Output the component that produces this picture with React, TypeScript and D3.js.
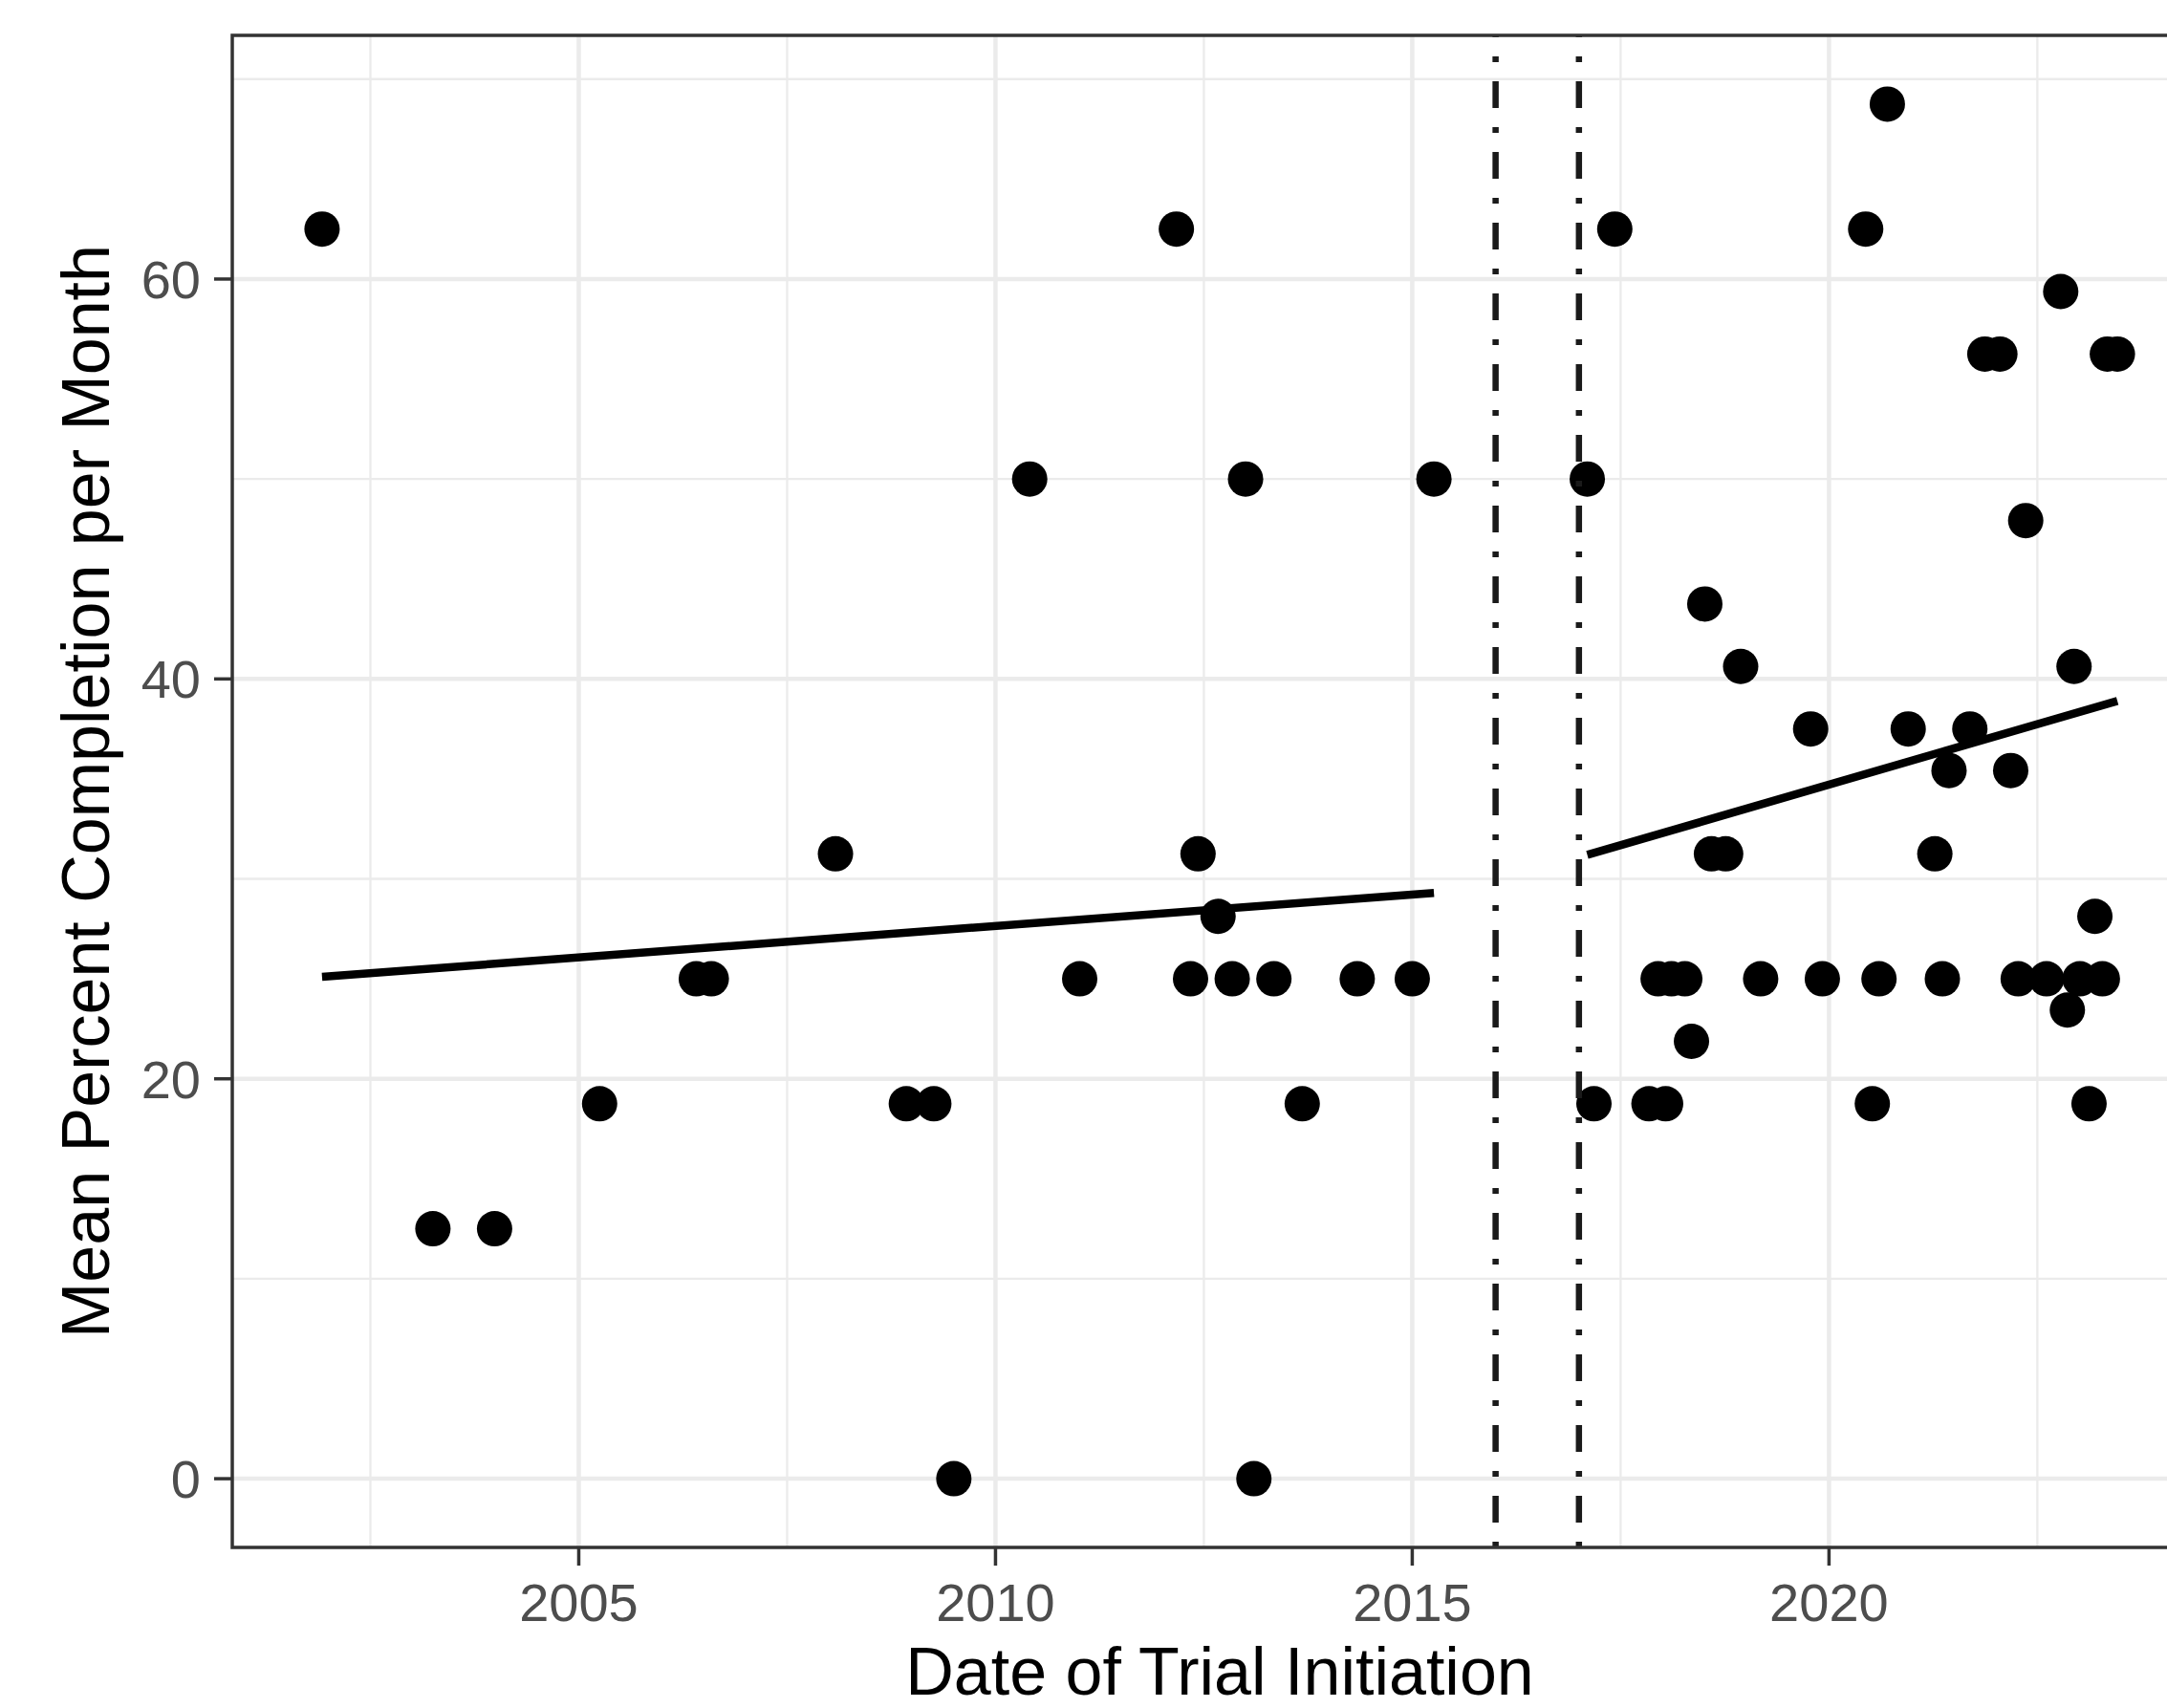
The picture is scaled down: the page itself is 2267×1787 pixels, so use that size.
import React, { useEffect, useRef } from "react";
import * as d3 from "d3";

// trials started before the 2016-2017 cut-off
const preYears = [
  2001.92, 2003.25, 2003.99, 2005.25, 2006.41, 2006.59, 2008.08, 2008.93,
  2009.26, 2009.5, 2010.41, 2011.01, 2012.17, 2012.34, 2012.43, 2012.67,
  2012.84, 2013.0, 2013.1, 2013.34, 2013.68, 2014.34, 2015.0, 2015.26,
];
const preValues = [
  62.5, 12.5, 12.5, 18.75, 25, 25, 31.25, 18.75, 18.75, 0, 50, 25, 62.5, 25,
  31.25, 28.125, 25, 50, 0, 25, 18.75, 25, 25, 50,
];

// trials started after it
const postYears = [
  2017.1, 2017.18, 2017.43, 2017.84, 2018.04, 2017.95, 2018.11, 2018.27,
  2018.35, 2018.51, 2018.59, 2018.76, 2018.94, 2019.18, 2019.78, 2019.92,
  2020.44, 2020.52, 2020.6, 2020.7, 2020.95, 2021.27, 2021.36, 2021.44,
  2021.69, 2021.87, 2022.05, 2022.18, 2022.27, 2022.36, 2022.61, 2022.78,
  2022.86, 2022.94, 2023.01, 2023.12, 2023.19, 2023.28, 2023.34, 2023.46,
];
const postValues = [
  50, 18.75, 62.5, 18.75, 18.75, 25, 25, 25, 21.875, 43.75, 31.25, 31.25,
  40.625, 25, 37.5, 25, 62.5, 18.75, 25, 68.75, 37.5, 31.25, 25, 35.42, 37.5,
  56.25, 56.25, 35.42, 25, 47.92, 25, 59.375, 23.44, 40.625, 25, 18.75,
  28.125, 25, 56.25, 56.25,
];

// linear fits (start/end) for each period
const fitYears = [
  [2001.92, 2015.26],
  [2017.1, 2023.46],
];
const fitValues = [
  [25.1, 29.3],
  [31.2, 38.9],
];

const cutoffYears = [2016, 2017];
const xTicks = [2005, 2010, 2015, 2020, 2025];
const xMinor = [2002.5, 2007.5, 2012.5, 2017.5, 2022.5];
const yTicks = [0, 20, 40, 60];
const yMinor = [10, 30, 50, 70];

const WIDTH = 2267;
const HEIGHT = 1787;
const FONT = "'Liberation Sans', Arial, Helvetica, sans-serif";

const App = () => {
  const svgRef = useRef<SVGSVGElement>(null);

  useEffect(() => {
    const svg = d3.select(svgRef.current);
    svg.selectAll("*").remove();

    const panel = { left: 243, right: 2309, top: 37, bottom: 1619 };

    const allYears = [...preYears, ...postYears];
    const allValues = [...preValues, ...postValues];
    const [x0, x1] = d3.extent(allYears) as [number, number];
    const [y0, y1] = d3.extent(allValues) as [number, number];
    const xPad = (x1 - x0) * 0.05;
    const yPad = (y1 - y0) * 0.05;

    const x = d3
      .scaleLinear()
      .domain([x0 - xPad, x1 + xPad])
      .range([panel.left, panel.right]);
    const y = d3
      .scaleLinear()
      .domain([y0 - yPad, y1 + yPad])
      .range([panel.bottom, panel.top]);

    svg.append("rect").attr("width", WIDTH).attr("height", HEIGHT).attr("fill", "#fff");

    svg
      .append("clipPath")
      .attr("id", "panel-clip")
      .append("rect")
      .attr("x", panel.left)
      .attr("y", panel.top)
      .attr("width", panel.right - panel.left)
      .attr("height", panel.bottom - panel.top);

    const g = svg.append("g").attr("clip-path", "url(#panel-clip)");

    // minor grid
    g.selectAll(".xminor")
      .data(xMinor)
      .join("line")
      .attr("x1", (d) => x(d))
      .attr("x2", (d) => x(d))
      .attr("y1", panel.top)
      .attr("y2", panel.bottom)
      .attr("stroke", "#ebebeb")
      .attr("stroke-width", 2.3);
    g.selectAll(".yminor")
      .data(yMinor)
      .join("line")
      .attr("x1", panel.left)
      .attr("x2", panel.right)
      .attr("y1", (d) => y(d))
      .attr("y2", (d) => y(d))
      .attr("stroke", "#ebebeb")
      .attr("stroke-width", 2.3);

    // major grid
    g.selectAll(".xmajor")
      .data(xTicks)
      .join("line")
      .attr("x1", (d) => x(d))
      .attr("x2", (d) => x(d))
      .attr("y1", panel.top)
      .attr("y2", panel.bottom)
      .attr("stroke", "#ebebeb")
      .attr("stroke-width", 4.5);
    g.selectAll(".ymajor")
      .data(yTicks)
      .join("line")
      .attr("x1", panel.left)
      .attr("x2", panel.right)
      .attr("y1", (d) => y(d))
      .attr("y2", (d) => y(d))
      .attr("stroke", "#ebebeb")
      .attr("stroke-width", 4.5);

    // points
    const pts = [
      ...preYears.map((yr, i) => [yr, preValues[i]]),
      ...postYears.map((yr, i) => [yr, postValues[i]]),
    ];
    g.selectAll(".pt")
      .data(pts)
      .join("circle")
      .attr("cx", (d) => x(d[0]))
      .attr("cy", (d) => y(d[1]))
      .attr("r", 18.5)
      .attr("fill", "#000");

    // fitted lines
    fitYears.forEach((yrs, k) => {
      const lg = d3
        .line<number>()
        .x((d) => x(d))
        .y((_, i) => y(fitValues[k][i]));
      g.append("path")
        .attr("d", lg(yrs))
        .attr("fill", "none")
        .attr("stroke", "#000")
        .attr("stroke-width", 8.5);
    });

    // cut-off lines (dotdash), drawn bottom to top
    g.selectAll(".cut")
      .data(cutoffYears)
      .join("line")
      .attr("x1", (d) => x(d))
      .attr("x2", (d) => x(d))
      .attr("y1", panel.bottom)
      .attr("y2", panel.top)
      .attr("stroke", "#1a1a1a")
      .attr("stroke-width", 6.5)
      .attr("stroke-dasharray", "6,20,28,20");

    // panel border
    svg
      .append("rect")
      .attr("x", panel.left)
      .attr("y", panel.top)
      .attr("width", panel.right - panel.left)
      .attr("height", panel.bottom - panel.top)
      .attr("fill", "none")
      .attr("stroke", "#333333")
      .attr("stroke-width", 3.5);

    // axes ticks + labels
    const xt = xTicks.filter((d) => x(d) <= WIDTH);
    svg
      .selectAll(".xtick")
      .data(xt)
      .join("line")
      .attr("x1", (d) => x(d))
      .attr("x2", (d) => x(d))
      .attr("y1", panel.bottom)
      .attr("y2", panel.bottom + 19)
      .attr("stroke", "#333333")
      .attr("stroke-width", 3.5);
    svg
      .selectAll(".xlab")
      .data(xt)
      .join("text")
      .attr("x", (d) => x(d))
      .attr("y", panel.bottom + 77)
      .attr("text-anchor", "middle")
      .style("font-family", FONT)
      .style("font-size", "56px")
      .attr("fill", "#4d4d4d")
      .text((d) => String(d));

    svg
      .selectAll(".ytick")
      .data(yTicks)
      .join("line")
      .attr("x1", panel.left - 19)
      .attr("x2", panel.left)
      .attr("y1", (d) => y(d))
      .attr("y2", (d) => y(d))
      .attr("stroke", "#333333")
      .attr("stroke-width", 3.5);
    svg
      .selectAll(".ylab")
      .data(yTicks)
      .join("text")
      .attr("x", panel.left - 33)
      .attr("y", (d) => y(d))
      .attr("dy", "0.36em")
      .attr("text-anchor", "end")
      .style("font-family", FONT)
      .style("font-size", "56px")
      .attr("fill", "#4d4d4d")
      .text((d) => String(d));

    // axis titles
    svg
      .append("text")
      .attr("x", (panel.left + panel.right) / 2)
      .attr("y", 1773)
      .attr("text-anchor", "middle")
      .style("font-family", FONT)
      .style("font-size", "70px")
      .attr("fill", "#000")
      .text("Date of Trial Initiation");

    svg
      .append("text")
      .attr("transform", `translate(114,${(panel.top + panel.bottom) / 2}) rotate(-90)`)
      .attr("text-anchor", "middle")
      .style("font-family", FONT)
      .style("font-size", "70px")
      .attr("fill", "#000")
      .text("Mean Percent Completion per Month");
  }, []);

  return (
    <svg
      ref={svgRef}
      width={WIDTH}
      height={HEIGHT}
      style={{ position: "absolute", left: 0, top: 0, display: "block" }}
    ></svg>
  );
};

export default App;
